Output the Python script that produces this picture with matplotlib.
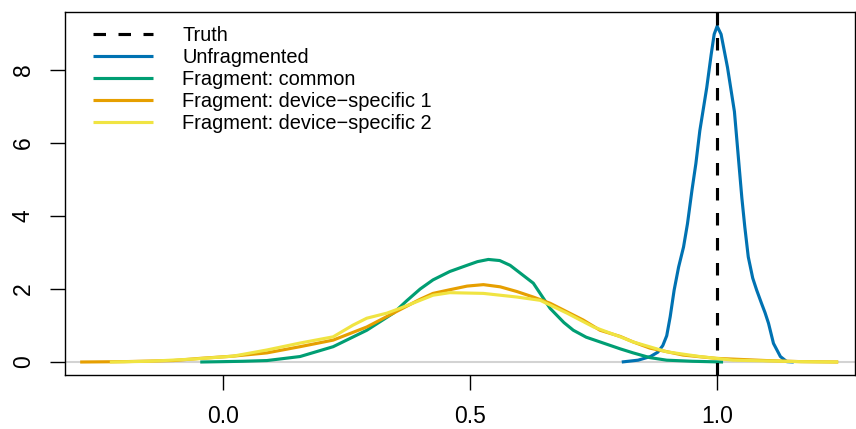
import matplotlib
matplotlib.use("Agg")
import matplotlib.pyplot as plt

plt.rcParams['font.family'] = ['Liberation Sans', 'DejaVu Sans']

# --- density curves ---

truth = 1.0

unfrag_x = [0.807, 0.840, 0.865, 0.880, 0.890, 0.898, 0.905, 0.913, 0.922, 0.932,
            0.940, 0.949, 0.957, 0.965, 0.979, 0.988, 0.994, 1.000, 1.008, 1.021,
            1.035, 1.043, 1.050, 1.056, 1.063, 1.072, 1.080, 1.090, 1.097, 1.104,
            1.114, 1.128, 1.141, 1.155]
unfrag_y = [0.0, 0.05, 0.15, 0.27, 0.45, 0.72, 1.24, 1.97, 2.60, 3.15,
            3.79, 4.70, 5.44, 6.34, 7.52, 8.43, 8.98, 9.20, 8.98, 8.07,
            6.86, 5.60, 4.50, 3.70, 2.88, 2.30, 1.97, 1.60, 1.35, 1.06,
            0.51, 0.15, 0.01, 0.0]

common_x = [-0.046, 0.0, 0.04, 0.089, 0.156, 0.223, 0.291, 0.345, 0.372, 0.399,
            0.425, 0.459, 0.494, 0.515, 0.537, 0.560, 0.581, 0.605, 0.628, 0.662,
            0.690, 0.709, 0.735, 0.763, 0.804, 0.830, 0.864, 0.898, 0.950, 1.012]
common_y = [0.0, 0.01, 0.02, 0.04, 0.15, 0.42, 0.87, 1.34, 1.68, 2.0,
            2.25, 2.48, 2.65, 2.75, 2.81, 2.78, 2.65, 2.4, 2.16, 1.47,
            1.08, 0.87, 0.68, 0.55, 0.36, 0.25, 0.12, 0.05, 0.02, 0.0]

ds1_x = [-0.289, -0.2, -0.1, -0.046, 0.02, 0.089, 0.156, 0.223, 0.291, 0.345,
         0.399, 0.425, 0.459, 0.494, 0.527, 0.561, 0.595, 0.628, 0.662, 0.729,
         0.763, 0.804, 0.83, 0.864, 0.931, 0.998, 1.099, 1.17, 1.245]
ds1_y = [0.0, 0.01, 0.04, 0.1, 0.16, 0.25, 0.42, 0.6, 0.96, 1.34,
         1.72, 1.88, 1.98, 2.08, 2.12, 2.06, 1.93, 1.78, 1.61, 1.15,
         0.87, 0.70, 0.55, 0.38, 0.19, 0.10, 0.04, 0.01, 0.0]

ds2_x = [-0.229, -0.15, -0.06, 0.02, 0.089, 0.156, 0.223, 0.263, 0.291, 0.332,
         0.358, 0.399, 0.425, 0.459, 0.527, 0.595, 0.642, 0.696, 0.75, 0.804,
         0.83, 0.898, 0.965, 1.032, 1.1, 1.168, 1.245]
ds2_y = [0.0, 0.02, 0.08, 0.16, 0.33, 0.52, 0.69, 1.01, 1.2, 1.34,
         1.47, 1.69, 1.83, 1.9, 1.88, 1.78, 1.69, 1.34, 0.96, 0.69,
         0.55, 0.28, 0.15, 0.05, 0.03, 0.01, 0.0]

labels = ["Truth", "Unfragmented", "Fragment: common",
          "Fragment: device\u2212specific 1", "Fragment: device\u2212specific 2"]
colors = ["black", "#0072B2", "#009E73", "#E69F00", "#F0E442"]

xticks = [0.0, 0.5, 1.0]
yticks = [0, 2, 4, 6, 8]

# --- figure ---

W, H = 856, 429
fig = plt.figure(figsize=(W / 100, H / 100), dpi=100)
ax = fig.add_axes([65 / W, 1 - 375 / H, (855 - 65) / W, (375 - 12) / H])

lw = 2.25
ax.axhline(0, color="lightgray", lw=1.5, zorder=1)

series = [(unfrag_x, unfrag_y), (common_x, common_y), (ds1_x, ds1_y), (ds2_x, ds2_y)]
for (xs, ys), c in zip(series, colors[1:]):
    ax.plot(xs, ys, color=c, lw=lw, solid_capstyle="butt",
            solid_joinstyle="round", zorder=2)

ax.axvline(truth, color="black", lw=lw, dashes=(4, 4), zorder=3)

ax.set_xlim(-0.3197, 1.279)
ax.set_ylim(-0.356, 9.59)

ax.set_xticks(xticks)
ax.set_xticklabels([f"{t:.1f}" for t in xticks])
ax.set_yticks(yticks)
ax.set_yticklabels([str(t) for t in yticks], rotation=90, va="center")
ax.tick_params(axis="both", direction="out", length=10.8, width=1, labelsize=16.5)
ax.tick_params(axis="x", pad=10.5)
ax.tick_params(axis="y", pad=11)
for s in ax.spines.values():
    s.set_linewidth(1)

# --- legend, drawn by hand like R's legend() without a box ---
fs = 14.4
row_y = [33.5, 55.5, 77.5, 99.5, 121.5]
for lab, c, ry in zip(labels, colors, row_y):
    yf = 1 - ry / H
    if lab == "Truth":
        fig.add_artist(plt.Line2D([93 / W, 153 / W], [yf, yf], color=c, lw=lw,
                                  dashes=(4, 4), transform=fig.transFigure))
    else:
        fig.add_artist(plt.Line2D([93 / W, 153 / W], [yf, yf], color=c, lw=lw,
                                  solid_capstyle="butt", transform=fig.transFigure))
    fig.text(182.5 / W, 1 - (ry + 7.2) / H, lab, fontsize=fs, ha="left", va="baseline")

fig.savefig("out.png", dpi=100)
